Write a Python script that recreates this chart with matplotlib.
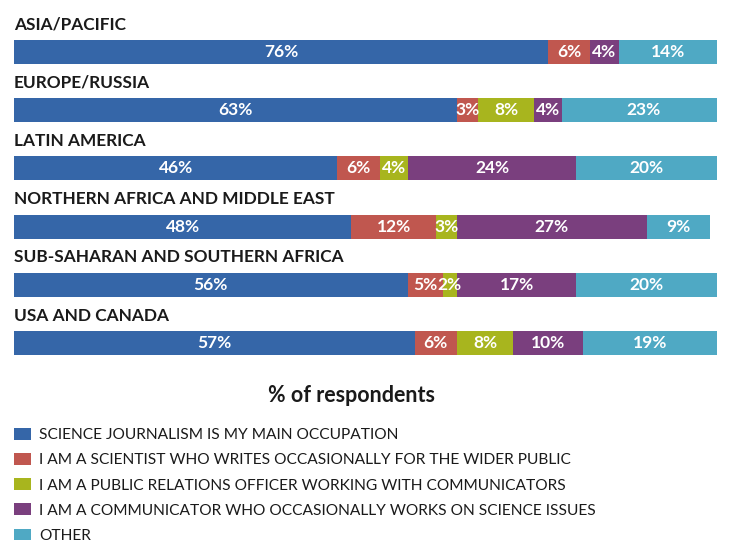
import matplotlib.pyplot as plt
from matplotlib.patches import Patch

# survey shares per region, one list per answer
regions = ['ASIA/PACIFIC', 'EUROPE/RUSSIA', 'LATIN AMERICA',
           'NORTHERN AFRICA AND MIDDLE EAST', 'SUB-SAHARAN AND SOUTHERN AFRICA',
           'USA AND CANADA']
journalist = [76, 63, 46, 48, 56, 57]
scientist = [6, 3, 6, 12, 5, 6]
pr_officer = [0, 8, 4, 3, 2, 8]
communicator = [4, 4, 24, 27, 17, 10]
other = [14, 23, 20, 9, 20, 19]

answers = ['SCIENCE JOURNALISM IS MY MAIN OCCUPATION',
           'I AM A SCIENTIST WHO WRITES OCCASIONALLY FOR THE WIDER PUBLIC',
           'I AM A PUBLIC RELATIONS OFFICER WORKING WITH COMMUNICATORS',
           'I AM A COMMUNICATOR WHO OCCASIONALLY WORKS ON SCIENCE ISSUES',
           'OTHER']
colors = ['#3566a8', '#c0574f', '#a8b51e', '#7a3f7e', '#4fa9c4']
series = [journalist, scientist, pr_officer, communicator, other]

plt.rcParams['font.family'] = ['Lato', 'DejaVu Sans']

fig = plt.figure(figsize=(7.29, 5.43), dpi=100)
W, H = 729, 543
ax = fig.add_axes([14 / W, (H - 372) / H, 703 / W, 349 / H])

ypos = list(range(len(regions)))
left = [0] * len(regions)
for vals, col in zip(series, colors):
    ax.barh(ypos, vals, left=left, height=0.41, color=col, edgecolor='none')
    for i, v in enumerate(vals):
        if v > 0:
            ax.text(left[i] + v / 2, i, f'{v}%', color='white', fontsize=12.5,
                    fontweight='bold', ha='center', va='center')
    left = [l + v for l, v in zip(left, vals)]

for i, name in enumerate(regions):
    ax.text(0, i - 0.47, name, fontsize=12.4, fontweight='bold',
            color='#1a1a1a', ha='left', va='center')

ax.set_xlim(0, 100)
ax.set_ylim(5.5, -0.5)
ax.axis('off')

fig.text(352 / W, 1 - 395 / H, '% of respondents', fontsize=15.5,
         fontweight='bold', color='#1a1a1a', ha='center', va='center')

handles = [Patch(facecolor=c, edgecolor='none') for c in colors]
fig.legend(handles, answers, loc='upper left',
           bbox_to_anchor=(0, 1 - 414 / H), frameon=False,
           fontsize=11.2, handlelength=1.1, handleheight=0.78,
           handletextpad=0.5, labelspacing=0.7, labelcolor='#1a1a1a')

fig.savefig('out.png', dpi=100, facecolor='white')
